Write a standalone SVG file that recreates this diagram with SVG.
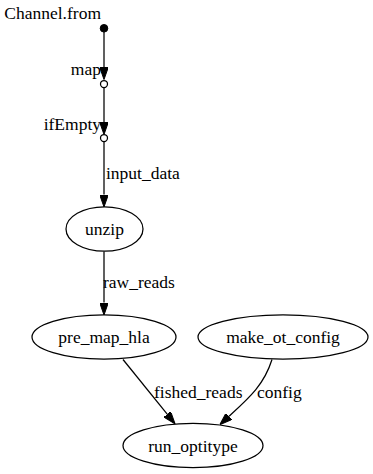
<svg xmlns="http://www.w3.org/2000/svg" width="373" height="474" viewBox="0 0 373 474">
<defs>
<marker id="arr" viewBox="0 0 12.5 8.8" refX="0" refY="4.4" markerWidth="12.5" markerHeight="8.8" markerUnits="userSpaceOnUse" orient="auto">
<path d="M0,0 L12.5,4.4 L0,8.8 z" fill="#000" stroke="#000" stroke-width="1"/>
</marker>
</defs>
<style>
text{font-family:"Liberation Serif",Tinos,"Times New Roman",Times,"Noto Serif",FreeSerif,"Nimbus Roman","DejaVu Serif",serif;font-size:17.5px;fill:#000}
.n{text-anchor:middle}
.x{text-anchor:end}
ellipse{fill:none;stroke:#000;stroke-width:1.25}
.e{fill:none;stroke:#000;stroke-width:1.25;marker-end:url(#arr)}
</style>
<rect width="373" height="474" fill="#fff"/>
<g id="connectors">
<path class="e" d="M104,32 L104,67"/>
<path class="e" d="M104,87.5 L104,122"/>
<path class="e" d="M104,141.5 L104,194.5"/>
<path class="e" d="M104,251.5 L104,302.5"/>
<path class="e" d="M123,359.5 L167.2,414.2"/>
<path class="e" d="M272,359.5 C264,385 249,398 229,416.3"/>
<text x="106" y="179">input_data</text>
<text x="103" y="288">raw_reads</text>
<text x="154" y="398">fished_reads</text>
<text x="257" y="398">config</text>
</g>
<g id="channel_from">
<circle cx="104" cy="28.3" r="3.8" fill="#000" stroke="#000" stroke-width="1"/>
<text class="x" x="101" y="19">Channel.from</text>
</g>
<g id="map">
<circle cx="104" cy="84" r="3.5" fill="#fff" stroke="#000" stroke-width="1.25"/>
<text class="x" x="101" y="75">map</text>
</g>
<g id="ifEmpty">
<circle cx="104" cy="138" r="3.5" fill="#fff" stroke="#000" stroke-width="1.25"/>
<text class="x" x="101" y="130">ifEmpty</text>
</g>
<g id="unzip">
<ellipse cx="104.5" cy="229" rx="38.5" ry="22.2"/>
<text class="n" x="104.5" y="235">unzip</text>
</g>
<g id="pre_map_hla">
<ellipse cx="104" cy="337" rx="72" ry="22.2"/>
<text class="n" x="104" y="343">pre_map_hla</text>
</g>
<g id="make_ot_config">
<ellipse cx="283" cy="337" rx="85" ry="22.2"/>
<text class="n" x="283" y="343">make_ot_config</text>
</g>
<g id="run_optitype">
<ellipse cx="193" cy="445.5" rx="70" ry="22.2"/>
<text class="n" x="193" y="451.5">run_optitype</text>
</g>
</svg>
